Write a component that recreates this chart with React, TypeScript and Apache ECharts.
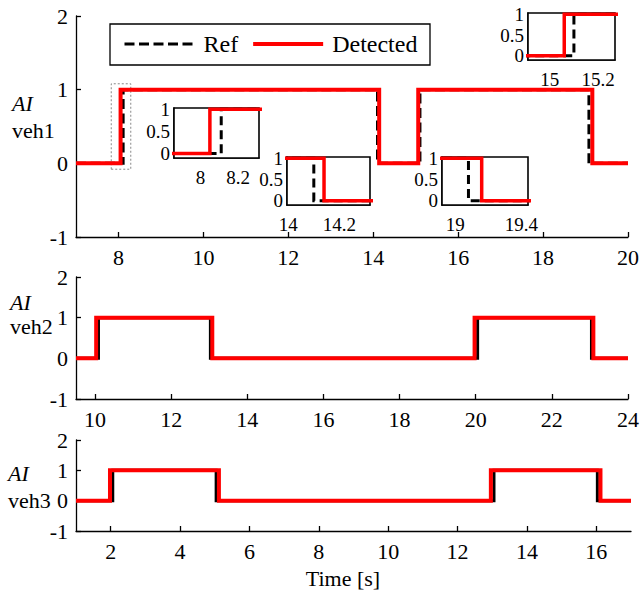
import React, { useEffect, useRef } from "react";
import * as echarts from "echarts";

const FONT = "'Liberation Serif', 'Times New Roman', Times, serif";

// ---------- data (step signals: value holds from each time until the next) ----------
const levels = [0, 1, 0, 1, 0, 0];

const veh1RefTimes = [7, 8.11, 14.1, 15.1, 19.08, 20];
const veh1DetTimes = [7, 8.05, 14.14, 15.06, 19.16, 20];

const veh2RefTimes = [9.5, 10.09, 13.03, 20.05, 23.04, 24];
const veh2DetTimes = [9.5, 10.03, 13.08, 19.97, 23.09, 24];

const veh3RefTimes = [1, 2.06, 5.04, 13.05, 16.03, 17];
const veh3DetTimes = [1, 1.98, 5.12, 12.96, 16.12, 17];

// axis ranges / ticks
const mainYTicks = [-1, 0, 1, 2];
const veh1XRange = [7, 20];
const veh1XTicks = [8, 10, 12, 14, 16, 18, 20];
const veh2XRange = [9.5, 24];
const veh2XTicks = [10, 12, 14, 16, 18, 20, 22, 24];
const veh3XRange = [1, 17];
const veh3XTicks = [2, 4, 6, 8, 10, 12, 14, 16];

// zoomed insets of veh1
const insetYRange = [-0.1, 1.03];
const insetYTicks = [0, 0.5, 1];
const inset1XRange = [7.86, 8.31];
const inset1XTicks = [8, 8.2];
const inset2XRange = [13.995, 14.32];
const inset2XTicks = [14, 14.2];
const inset3XRange = [18.92, 19.44];
const inset3XTicks = [19, 19.4];
const inset4XRange = [14.91, 15.27];
const inset4XTicks = [15, 15.2];

// zoom window drawn on veh1
const zoomBoxX = [7.83, 8.29];
const zoomBoxY = [-0.08, 1.08];

const pts = (times: number[]) => times.map((t, i) => [t, levels[i]]);

// ---------- layout ----------
const grids = [
  { left: 76, top: 16, width: 555, height: 221 },
  { left: 76, top: 277, width: 555, height: 122 },
  { left: 76, top: 440, width: 555, height: 91 },
  { left: 174, top: 108, width: 85, height: 50 },
  { left: 287, top: 157, width: 83, height: 48 },
  { left: 442, top: 157, width: 86, height: 48 },
  { left: 528, top: 13, width: 87, height: 47 },
];

const BLACK = "#000";
const RED = "#ff0000";
const DASH = [10, 4.5];

function mainX(i: number, range: number[], ticks: number[]) {
  return {
    gridIndex: i,
    type: "value",
    min: range[0],
    max: range[1],
    axisLine: { show: true, onZero: false, lineStyle: { color: BLACK, width: 1.3 } },
    axisTick: { show: true, inside: true, length: 5, customValues: ticks, lineStyle: { color: BLACK, width: 1.3 } },
    axisLabel: { customValues: ticks, margin: 9, fontSize: 22, fontFamily: FONT, color: BLACK },
    splitLine: { show: false },
  };
}
function mainY(i: number) {
  return {
    gridIndex: i,
    type: "value",
    min: mainYTicks[0],
    max: mainYTicks[mainYTicks.length - 1],
    interval: 1,
    axisLine: { show: true, onZero: false, lineStyle: { color: BLACK, width: 1.3 } },
    axisTick: { show: true, inside: true, length: 5, lineStyle: { color: BLACK, width: 1.3 } },
    axisLabel: { margin: 8, fontSize: 22, fontFamily: FONT, color: BLACK },
    splitLine: { show: false },
  };
}
function insetX(i: number, range: number[], ticks: number[]) {
  return {
    gridIndex: i,
    type: "value",
    min: range[0],
    max: range[1],
    axisLine: { show: true, onZero: false, lineStyle: { color: BLACK, width: 1.6 } },
    axisTick: { show: true, inside: true, length: 3, customValues: ticks, lineStyle: { color: BLACK, width: 1.5 } },
    axisLabel: { customValues: ticks, margin: 10, fontSize: 19, fontFamily: FONT, color: BLACK },
    splitLine: { show: false },
  };
}
function insetY(i: number) {
  return {
    gridIndex: i,
    type: "value",
    min: insetYRange[0],
    max: insetYRange[1],
    axisLine: { show: true, onZero: false, lineStyle: { color: BLACK, width: 1.6 } },
    axisTick: { show: true, inside: true, length: 3, customValues: insetYTicks, lineStyle: { color: BLACK, width: 1.5 } },
    axisLabel: { customValues: insetYTicks, margin: 4, fontSize: 19, fontFamily: FONT, color: BLACK },
    splitLine: { show: false },
  };
}

function line(name: string, i: number, data: number[][], color: string, width: number, type: any, z = 2) {
  return {
    name,
    type: "line",
    xAxisIndex: i,
    yAxisIndex: i,
    data,
    step: "end",
    symbol: "none",
    showSymbol: false,
    clip: true,
    z,
    itemStyle: { color },
    lineStyle: { color, width, type, cap: "butt", join: "miter" },
    emphasis: { disabled: true },
  };
}

export default function App() {
  const ref = useRef<HTMLDivElement>(null);
  useEffect(() => {
    if (!ref.current) return;
    const chart = echarts.init(ref.current, null, { renderer: "svg" });

    const v1r = pts(veh1RefTimes);
    const v1d = pts(veh1DetTimes);

    const detMain1: any = line("Detected", 0, v1d, RED, 4, "solid", 3);
    detMain1.markArea = {
      silent: true,
      itemStyle: { color: "rgba(0,0,0,0)", borderColor: "#888", borderWidth: 1, borderType: [2, 2] },
      data: [[{ xAxis: zoomBoxX[0], yAxis: zoomBoxY[0] }, { xAxis: zoomBoxX[1], yAxis: zoomBoxY[1] }]],
    };

    const series: any[] = [
      line("Ref", 0, v1r, BLACK, 3, DASH, 2),
      detMain1,
      line("Ref veh2", 1, pts(veh2RefTimes), BLACK, 3, "solid", 2),
      line("Detected veh2", 1, pts(veh2DetTimes), RED, 4, "solid", 3),
      line("Ref veh3", 2, pts(veh3RefTimes), BLACK, 3, "solid", 2),
      line("Detected veh3", 2, pts(veh3DetTimes), RED, 4, "solid", 3),
    ];
    for (let k = 3; k <= 6; k++) {
      series.push(line("Ref inset " + k, k, v1r, BLACK, 3, [9, 5], 5));
      series.push(line("Detected inset " + k, k, v1d, RED, 3.5, "solid", 6));
    }

    const textBase = { fontFamily: FONT, fontSize: 22, fill: BLACK };
    const option: any = {
      animation: false,
      backgroundColor: "#fff",
      grid: grids.map((g, i) => ({
        ...g,
        containLabel: false,
        show: i >= 3,
        backgroundColor: i >= 3 ? "#fff" : "transparent",
        borderColor: BLACK,
        borderWidth: 1.6,
        z: i >= 3 ? 4 : 0,
      })),
      xAxis: [
        mainX(0, veh1XRange, veh1XTicks),
        mainX(1, veh2XRange, veh2XTicks),
        mainX(2, veh3XRange, veh3XTicks),
        insetX(3, inset1XRange, inset1XTicks),
        insetX(4, inset2XRange, inset2XTicks),
        insetX(5, inset3XRange, inset3XTicks),
        insetX(6, inset4XRange, inset4XTicks),
      ],
      yAxis: [mainY(0), mainY(1), mainY(2), insetY(3), insetY(4), insetY(5), insetY(6)],
      legend: {
        left: 123,
        top: 32,
        padding: 0,
        itemWidth: 70,
        itemHeight: 14,
        itemGap: 13,
        selectedMode: false,
        itemStyle: { opacity: 0 },
        data: [
          { name: "Ref", lineStyle: { width: 3, type: DASH, color: BLACK } },
          { name: "Detected", lineStyle: { width: 4, color: RED } },
        ],
        textStyle: { fontFamily: FONT, fontSize: 24, color: BLACK, padding: [0, 0, 0, 4] },
      },
      graphic: [
        {
          type: "rect",
          shape: { x: 110, y: 24, width: 320, height: 41 },
          style: { fill: "rgba(0,0,0,0)", stroke: BLACK, lineWidth: 1.3 },
          silent: true,
        },
        { type: "text", x: 12, y: 103, style: { ...textBase, text: "AI", fontStyle: "italic", verticalAlign: "middle" } },
        { type: "text", x: 12, y: 130, style: { ...textBase, text: "veh1", verticalAlign: "middle" } },
        { type: "text", x: 10, y: 302, style: { ...textBase, text: "AI", fontStyle: "italic", verticalAlign: "middle" } },
        { type: "text", x: 10, y: 326, style: { ...textBase, text: "veh2", verticalAlign: "middle" } },
        { type: "text", x: 8, y: 473, style: { ...textBase, text: "AI", fontStyle: "italic", verticalAlign: "middle" } },
        { type: "text", x: 8, y: 500, style: { ...textBase, text: "veh3", verticalAlign: "middle" } },
        { type: "text", x: 343, y: 578, style: { ...textBase, text: "Time [s]", align: "center", verticalAlign: "middle" } },
      ],
      series,
    };
    chart.setOption(option);
    return () => chart.dispose();
  }, []);
  return (
    <div
      ref={ref}
      style={{ position: "fixed", left: 0, top: 0, width: 642, height: 593, background: "#fff" }}
    />
  );
}
